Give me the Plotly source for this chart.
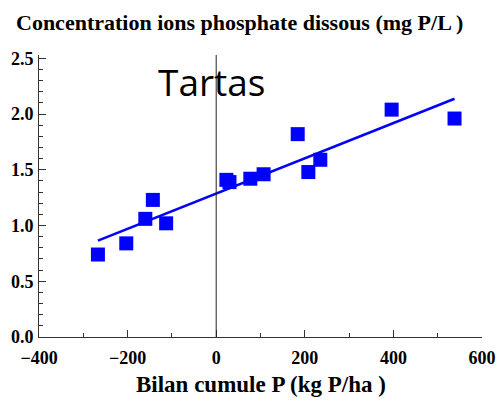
import numpy as np
import plotly.graph_objects as go

# Cumulative P balance (kg P/ha) vs dissolved phosphate concentration (mg P/L)
bilan_p = [-267, -203, -160, -143, -113, 23, 30, 77, 107, 184, 208, 235, 396, 538]
conc_p = [0.74, 0.84, 1.06, 1.23, 1.02, 1.41, 1.39, 1.42, 1.46, 1.82, 1.48, 1.59, 2.04, 1.96]

x_ticks = [-400, -200, 0, 200, 400, 600]
y_ticks = [0.0, 0.5, 1.0, 1.5, 2.0, 2.5]

# Linear regression line over the data span
slope, intercept = np.polyfit(bilan_p, conc_p, 1)
fit_x = np.array([min(bilan_p), max(bilan_p)])
fit_y = slope * fit_x + intercept

serif = "Liberation Serif"
blue = "#0000ff"

fig = go.Figure()
fig.add_trace(go.Scatter(
    x=fit_x, y=fit_y, mode="lines",
    line=dict(color=blue, width=2.6), hoverinfo="skip",
))
fig.add_trace(go.Scatter(
    x=bilan_p, y=conc_p, mode="markers",
    marker=dict(symbol="square", size=14, color=blue, line=dict(width=0)),
))

# vertical reference line at zero balance
fig.add_shape(type="line", xref="x", yref="paper", x0=0, x1=0, y0=0, y1=1,
              line=dict(color="#222222", width=1))

axis_common = dict(
    showgrid=False, zeroline=False, showline=True, linecolor="#333333", linewidth=1,
    ticks="inside", tickcolor="#333333", tickwidth=1, automargin=False,
    tickfont=dict(family=serif, size=18, color="black", weight="bold"),
)

fig.update_layout(
    width=500, height=402,
    margin=dict(l=39, r=18, t=55, b=65),
    plot_bgcolor="white", paper_bgcolor="white",
    showlegend=False,
    xaxis=dict(range=[-400, 600], tickvals=x_ticks, ticklen=7,
               tickformat="d", ticklabelstandoff=4,
               minor=dict(dtick=100, ticks="inside", ticklen=4, tickcolor="#333333"),
               **axis_common),
    yaxis=dict(range=[0, 2.53], tickvals=y_ticks, ticklen=7,
               tickformat=".1f", ticklabelstandoff=1,
               minor=dict(dtick=0.1, ticks="inside", ticklen=4, tickcolor="#333333"),
               **axis_common),
    annotations=[
        dict(text="Concentration ions phosphate dissous (mg P/L )",
             xref="paper", yref="paper", x=-0.056, y=1.117,
             xanchor="left", yanchor="middle", showarrow=False,
             font=dict(family=serif, size=22, color="black", weight="bold")),
        dict(text="Bilan cumule P (kg P/ha )",
             xref="paper", yref="paper", x=0.501, y=-0.17,
             xanchor="center", yanchor="middle", showarrow=False,
             font=dict(family=serif, size=23, color="black", weight="bold")),
        dict(text="Tartas", xref="x", yref="y", x=-10, y=2.29,
             xanchor="center", yanchor="middle", showarrow=False,
             font=dict(family="Open Sans", size=37, color="black")),
    ],
)

fig.write_html("out.html")
